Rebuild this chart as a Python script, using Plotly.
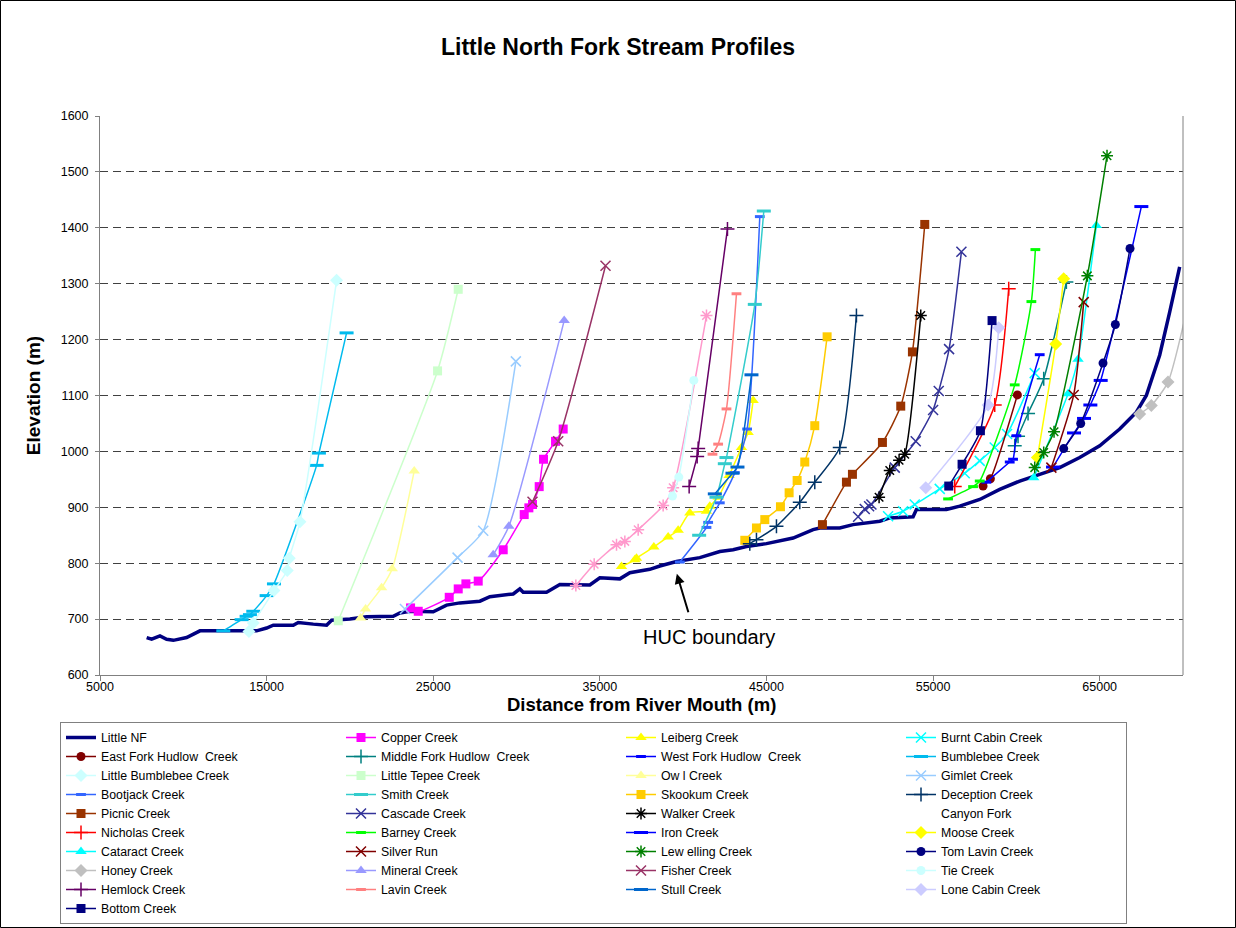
import plotly.graph_objects as go

# ---------------- data ----------------
little_nf_x = [7800, 8100, 8600, 9000, 9400, 10200, 11000, 14400, 15000, 15400, 16600, 16900, 17800, 18600,
               18900, 20000, 21000, 22200, 22600, 23000, 23600, 25000, 25800, 26600, 27800, 28400, 29800,
               30200, 30400, 31800, 32600, 34400, 35000, 36200, 36800, 38000, 38600, 39600, 41000, 42200,
               43000, 43800, 45000, 46600, 47800, 48200, 49400, 50200, 51800, 52400, 53800, 54000, 55800,
               56600, 57400, 57800, 59000, 60200, 61400, 62600, 63800, 65000, 66200, 67200, 67800, 68600,
               69200, 69800]
little_nf_y = [667, 664, 670, 664, 662, 667, 679, 679, 684, 689, 689, 694, 691, 689,
               698, 700, 704, 704, 705, 711, 714, 713, 725, 729, 732, 740, 745,
               754, 748, 748, 762, 761, 774, 772, 783, 789, 795, 803, 810, 821,
               824, 830, 835, 845, 860, 863, 863, 869, 875, 881, 883, 896, 896,
               902, 911, 914, 932, 947, 959, 971, 989, 1010, 1040, 1070, 1100, 1172,
               1249, 1330]

copper_x = [23640, 24100, 25960, 26500, 26960, 27700, 29200, 30460, 30740, 30960, 31360, 31620, 32340, 32800]
copper_y = [720, 714, 739, 754, 763, 768, 824, 887, 899, 905, 937, 986, 1018, 1040]

leiberg_x = [36300, 37100, 37200, 38240, 39100, 39700, 40400, 41400, 41600, 42100, 42760, 43500, 43900, 44200]
leiberg_y = [794, 806, 809, 829, 847, 859, 890, 893, 902, 918, 957, 1007, 1034, 1091]

burnt_cabin_x = [52300, 53200, 53900, 55400, 56900, 57800, 58700, 59440, 61100]
burnt_cabin_y = [884, 893, 905, 933, 961, 983, 1007, 1031, 1140]

east_fork_hudlow_x = [58000, 58440, 60060]
east_fork_hudlow_y = [938, 951, 1101]

middle_fork_hudlow_x = [59900, 60100, 60700, 61640, 63000]
middle_fork_hudlow_y = [1010, 1027, 1068, 1130, 1303]

west_fork_hudlow_x = [58200, 59600, 59800, 60000, 61400]
west_fork_hudlow_y = [945, 981, 986, 1028, 1173]

bumblebee_x = [12400, 13500, 13800, 14000, 14200, 15000, 15440, 18000, 18140, 19800]
bumblebee_y = [679, 699, 705, 708, 714, 742, 763, 975, 997, 1212]

little_bumblebee_x = [13940, 14200, 15440, 16240, 16360, 17000, 19200]
little_bumblebee_y = [678, 693, 751, 787, 809, 874, 1306]

little_tepee_x = [19300, 25260, 26500]
little_tepee_y = [697, 1144, 1290]

owl_x = [20640, 20940, 21900, 22540, 23860]
owl_y = [702, 718, 756, 790, 965]

gimlet_x = [23300, 26460, 28000, 29960]
gimlet_y = [718, 810, 858, 1161]

bootjack_x = [39800, 41400, 41500, 42200, 43100, 43840, 44600]
bootjack_y = [802, 864, 873, 908, 962, 1040, 1420]

smith_x = [40960, 42000, 42500, 42600, 44300, 44840]
smith_y = [850, 918, 978, 989, 1263, 1430]

skookum_x = [43700, 44400, 44900, 45840, 46360, 46840, 47300, 47900, 48640]
skookum_y = [841, 863, 878, 901, 926, 948, 981, 1046, 1205]

deception_x = [44000, 44400, 45600, 47000, 47900, 49400, 50400]
deception_y = [835, 842, 866, 909, 945, 1007, 1243]

picnic_x = [48360, 49800, 50160, 51960, 53060, 53760, 54500]
picnic_y = [869, 945, 959, 1016, 1081, 1178, 1406]

cascade_x = [50500, 50900, 51160, 51300, 52700, 53960, 55000, 55340, 55960, 56700]
cascade_y = [883, 897, 902, 905, 971, 1018, 1074, 1108, 1183, 1357]

walker_x = [51760, 52400, 52960, 53300, 54260]
walker_y = [918, 966, 984, 995, 1243]

canyon_fork_x = [33560, 34660, 36000, 36500, 37300, 38800, 39400, 41400]
canyon_fork_y = [760, 798, 833, 839, 860, 903, 935, 1243]

nicholas_x = [56300, 58700, 59540]
nicholas_y = [937, 1083, 1291]

barney_x = [55900, 57400, 57800, 59900, 60900, 61140]
barney_y = [915, 937, 947, 1119, 1268, 1361]

iron_x = [62200, 63460, 64060, 64440, 65060, 67500]
iron_y = [972, 1033, 1059, 1083, 1127, 1438]

moose_x = [61260, 62360, 62840]
moose_y = [989, 1192, 1309]

cataract_x = [61040, 63100, 63700, 64800]
cataract_y = [953, 1103, 1165, 1404]

silver_run_x = [62100, 63440, 64040]
silver_run_y = [971, 1101, 1267]

lewelling_x = [61100, 61640, 62260, 64260, 65440]
lewelling_y = [971, 998, 1035, 1314, 1529]

tom_lavin_x = [62840, 63860, 65200, 65940, 66820]
tom_lavin_y = [1005, 1050, 1158, 1227, 1363]

honey_x = [67400, 68100, 69100, 70500]
honey_y = [1067, 1082, 1124, 1290]

mineral_x = [28600, 29540, 32860]
mineral_y = [815, 866, 1234]

fisher_x = [30960, 32500, 35340]
fisher_y = [910, 1018, 1332]

tie_x = [39360, 39740, 40640]
tie_y = [920, 954, 1127]

hemlock_x = [40360, 40840, 40900, 42660]
hemlock_y = [937, 991, 1005, 1398]

lavin_x = [41760, 42100, 42600, 43200]
lavin_y = [995, 1013, 1076, 1282]

stull_x = [41900, 42960, 43260, 44100]
stull_y = [924, 961, 972, 1137]

lone_cabin_x = [54560, 58300, 58940]
lone_cabin_y = [935, 1083, 1221]

bottom_x = [55940, 56740, 57840, 58540]
bottom_y = [938, 977, 1037, 1234]

x_ticks = [5000, 15000, 25000, 35000, 45000, 55000, 65000]

# ---------------- styles ----------------
FONT = "Liberation Sans, Arial, sans-serif"

# name, x, y, colour, marker kind
series = [
    ("Little NF", little_nf_x, little_nf_y, "#000080", "main"),
    ("Copper Creek", copper_x, copper_y, "#FF00FF", "square"),
    ("Leiberg Creek", leiberg_x, leiberg_y, "#FFFF00", "triangle"),
    ("Burnt Cabin Creek", burnt_cabin_x, burnt_cabin_y, "#00FFFF", "x"),
    ("East Fork Hudlow  Creek", east_fork_hudlow_x, east_fork_hudlow_y, "#800000", "circle"),
    ("Middle Fork Hudlow  Creek", middle_fork_hudlow_x, middle_fork_hudlow_y, "#008080", "plus"),
    ("West Fork Hudlow  Creek", west_fork_hudlow_x, west_fork_hudlow_y, "#0000FF", "dash_s"),
    ("Bumblebee Creek", bumblebee_x, bumblebee_y, "#00BBEE", "dash"),
    ("Little Bumblebee Creek", little_bumblebee_x, little_bumblebee_y, "#CCFFFF", "diamond"),
    ("Little Tepee Creek", little_tepee_x, little_tepee_y, "#CCFFCC", "square"),
    ("Ow l Creek", owl_x, owl_y, "#FFFF99", "triangle"),
    ("Gimlet Creek", gimlet_x, gimlet_y, "#99CCFF", "x"),
    ("Bootjack Creek", bootjack_x, bootjack_y, "#3366FF", "dash_s"),
    ("Smith Creek", smith_x, smith_y, "#33CCCC", "dash"),
    ("Skookum Creek", skookum_x, skookum_y, "#FFCC00", "square"),
    ("Deception Creek", deception_x, deception_y, "#003366", "plus"),
    ("Picnic Creek", picnic_x, picnic_y, "#993300", "square"),
    ("Cascade Creek", cascade_x, cascade_y, "#333399", "x"),
    ("Walker Creek", walker_x, walker_y, "#000000", "asterisk"),
    ("Canyon Fork", canyon_fork_x, canyon_fork_y, "#FF99CC", "asterisk_blank_legend"),
    ("Nicholas Creek", nicholas_x, nicholas_y, "#FF0000", "plus"),
    ("Barney Creek", barney_x, barney_y, "#00FF00", "dash_s"),
    ("Iron Creek", iron_x, iron_y, "#0000FF", "dash"),
    ("Moose Creek", moose_x, moose_y, "#FFFF00", "diamond"),
    ("Cataract Creek", cataract_x, cataract_y, "#00FFFF", "triangle"),
    ("Silver Run", silver_run_x, silver_run_y, "#800000", "x"),
    ("Lew elling Creek", lewelling_x, lewelling_y, "#008000", "asterisk"),
    ("Tom Lavin Creek", tom_lavin_x, tom_lavin_y, "#000080", "circle"),
    ("Honey Creek", honey_x, honey_y, "#C0C0C0", "diamond"),
    ("Mineral Creek", mineral_x, mineral_y, "#9999FF", "triangle"),
    ("Fisher Creek", fisher_x, fisher_y, "#993366", "x"),
    ("Tie Creek", tie_x, tie_y, "#CCFFFF", "circle"),
    ("Hemlock Creek", hemlock_x, hemlock_y, "#660066", "plus"),
    ("Lavin Creek", lavin_x, lavin_y, "#FF8080", "dash_s"),
    ("Stull Creek", stull_x, stull_y, "#0066CC", "dash"),
    ("Lone Cabin Creek", lone_cabin_x, lone_cabin_y, "#CCCCFF", "diamond"),
    ("Bottom Creek", bottom_x, bottom_y, "#000080", "square"),
]


def marker_for(kind, color):
    if kind == "square":
        return dict(symbol="square", size=9, color=color)
    if kind == "triangle":
        return dict(symbol="triangle-up", size=10, color=color)
    if kind == "circle":
        return dict(symbol="circle", size=9, color=color)
    if kind == "diamond":
        return dict(symbol="diamond", size=10, color=color)
    if kind == "x":
        return dict(symbol="x-thin-open", size=10, color=color, line=dict(color=color, width=1.5))
    if kind.startswith("asterisk"):
        return dict(symbol="asterisk-open", size=10, color=color, line=dict(color=color, width=1.5))
    if kind == "plus":
        return dict(symbol="cross-thin-open", size=10, color=color, line=dict(color=color, width=1.5))
    if kind == "dash":
        return dict(symbol="line-ew-open", size=10, color=color, line=dict(color=color, width=3))
    if kind == "dash_s":
        return dict(symbol="line-ew-open", size=7, color=color, line=dict(color=color, width=3))
    return None


ENTRY_W = 235      # legend entry width (px) -> column pitch of ~280 px
LAST_COL_W = 180   # narrower last column keeps the legend box compact

fig = go.Figure()
legend_idx = 0
for name, xs, ys, color, kind in series:
    lw = LAST_COL_W if legend_idx % 4 == 3 else ENTRY_W
    legend_idx += 1
    if kind == "main":
        fig.add_trace(go.Scatter(x=xs, y=ys, name=name, mode="lines", legendwidth=lw,
                                 line=dict(color=color, width=3.5)))
        continue
    blank_legend = kind == "asterisk_blank_legend"
    if blank_legend:
        # legend entry appears without a symbol in the reference
        fig.add_trace(go.Scatter(x=[None], y=[None], name=name, mode="lines", legendwidth=lw,
                                 line=dict(color="rgba(0,0,0,0)", width=1)))
    fig.add_trace(go.Scatter(
        x=xs, y=ys, name=name, mode="lines+markers", legendwidth=lw,
        showlegend=not blank_legend,
        line=dict(color=color, width=1.5, shape="spline", smoothing=0.6),
        marker=marker_for(kind, color),
    ))

W, H = 1236, 928
ML, MR, MT, MB = 100, 53, 116, 253
PW, PH = W - ML - MR, H - MT - MB

fig.update_layout(
    width=W, height=H,
    margin=dict(l=ML, r=MR, t=MT, b=MB, autoexpand=False),
    paper_bgcolor="white", plot_bgcolor="white",
    font=dict(family=FONT, size=13, color="black"),
    title=dict(text="<b>Little North Fork Stream Profiles</b>", font=dict(size=23, family=FONT, color="black"),
               x=0.5, xref="container", xanchor="center", y=1 - 47 / H, yref="container", yanchor="middle"),
    xaxis=dict(range=[5000, 70000], tickvals=x_ticks, tickformat="d", showgrid=False, zeroline=False,
               showline=True, linecolor="#808080", linewidth=1, ticks="outside", ticklen=5, tickcolor="#808080",
               ticklabelstandoff=-5,
               tickfont=dict(size=12.5, family=FONT, color="black")),
    yaxis=dict(range=[600, 1600], dtick=100, tick0=600, tickformat="d", showgrid=True, gridcolor="#404040",
               griddash="8px,5px", gridwidth=1, zeroline=False,
               showline=True, linecolor="#808080", linewidth=1, ticks="outside", ticklen=4, tickcolor="#808080",
               ticklabelstandoff=4,
               tickfont=dict(size=12.5, family=FONT, color="black"),
               title=dict(text="<b>Elevation (m)</b>", font=dict(size=19, family=FONT, color="black"),
                          standoff=15)),
    legend=dict(orientation="h", x=(60 - ML) / PW, xanchor="left", y=-(722 - (MT + PH)) / PH, yanchor="top",
                entrywidth=ENTRY_W, entrywidthmode="pixels", bordercolor="#808080", borderwidth=1,
                bgcolor="white", font=dict(size=12.3, family=FONT, color="black"), traceorder="normal"),
    showlegend=True,
)

# x-axis title, placed tight under the tick labels as in the reference
fig.add_annotation(x=0.5, y=-(704 - (MT + PH)) / PH, xref="paper", yref="paper",
                   text="<b>Distance from River Mouth (m)</b>", showarrow=False,
                   font=dict(size=18.5, family=FONT, color="black"), xanchor="center", yanchor="middle")

# plot-area right border and chart-area border
fig.add_shape(type="line", xref="paper", yref="paper", x0=1, x1=1, y0=0, y1=1,
              line=dict(color="#808080", width=1))
fig.add_shape(type="rect", xref="paper", yref="paper",
              x0=-(ML - 0.5) / PW, x1=(W - 0.5 - ML) / PW,
              y0=-(MB - 0.5) / PH, y1=1 + (MT - 0.5) / PH,
              line=dict(color="#000000", width=1), fillcolor="rgba(0,0,0,0)", layer="above")

# HUC boundary label and arrow
fig.add_annotation(x=41540, y=668, xref="x", yref="y", text="HUC boundary", showarrow=False,
                   font=dict(size=20, family=FONT, color="black"))
fig.add_annotation(x=39620, y=781, xref="x", yref="y", text="", showarrow=True, ax=12, ay=40,
                   arrowhead=2, arrowsize=1, arrowwidth=2, arrowcolor="black", standoff=0)

fig.write_html("out.html", config={"displayModeBar": False},
               post_script="document.body.style.margin='0';")
